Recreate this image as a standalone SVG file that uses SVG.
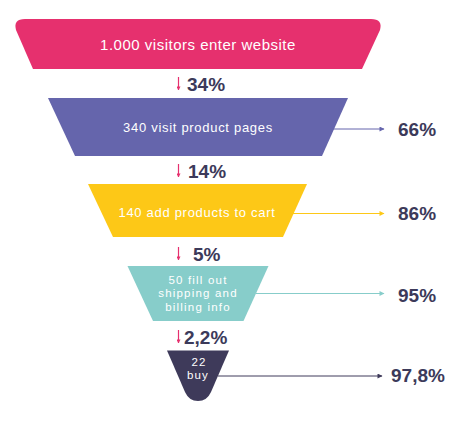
<svg xmlns="http://www.w3.org/2000/svg" width="463" height="428" viewBox="0 0 463 428">
<style>
.lbl{font-family:"Liberation Sans",Arial,sans-serif;font-size:13px;fill:#ffffff;text-anchor:middle;letter-spacing:0.7px}
.sm{font-size:11.5px;letter-spacing:1.2px}
.pct{font-family:"Liberation Sans",Arial,sans-serif;font-size:19px;font-weight:bold;fill:#3c3a5a}
.down{stroke:#e6306e;stroke-width:1.2;fill:none}
</style>
<defs>
<marker id="hd" viewBox="0 0 10 10" refX="9" refY="5" markerWidth="4" markerHeight="4" markerUnits="userSpaceOnUse" orient="auto"><path d="M0,0 L10,5 L0,10 Z" fill="#e6306e"/></marker>
<marker id="hp" viewBox="0 0 10 10" refX="9" refY="5" markerWidth="8" markerHeight="5" markerUnits="userSpaceOnUse" orient="auto"><path d="M0,0 L10,5 L0,10 Z" fill="#6565ac"/></marker>
<marker id="hy" viewBox="0 0 10 10" refX="9" refY="5" markerWidth="8" markerHeight="5" markerUnits="userSpaceOnUse" orient="auto"><path d="M0,0 L10,5 L0,10 Z" fill="#fdc817"/></marker>
<marker id="ht" viewBox="0 0 10 10" refX="9" refY="5" markerWidth="8" markerHeight="5" markerUnits="userSpaceOnUse" orient="auto"><path d="M0,0 L10,5 L0,10 Z" fill="#87cdca"/></marker>
<marker id="hn" viewBox="0 0 10 10" refX="9" refY="5" markerWidth="8" markerHeight="5" markerUnits="userSpaceOnUse" orient="auto"><path d="M0,0 L10,5 L0,10 Z" fill="#3e3a5a"/></marker>
</defs>
<rect width="463" height="428" fill="#ffffff"/>
<g id="stage1">
<path d="M33,69 L16,30 Q13,19 25,19 L371,19 Q383,19 380,30 L362,69 Z" fill="#e6306e"/>
<text class="lbl" x="198" y="50" style="font-size:15px;letter-spacing:0.5px">1.000 visitors enter website</text>
</g>
<g id="stage2">
<path d="M48,98 L348,98 L322,156 L75,156 Z" fill="#6565ac"/>
<text class="lbl" x="198" y="132">340 visit product pages</text>
</g>
<g id="stage3">
<path d="M88,184 L307,184 L283,237 L113,237 Z" fill="#fdc817"/>
<text class="lbl" x="197" y="217">140 add products to cart</text>
</g>
<g id="stage4">
<path d="M127.5,266 L268.5,266 L243.5,321 L153,321 Z" fill="#87cdca"/>
<text class="lbl sm" x="198" y="283.5">50 fill out</text>
<text class="lbl sm" x="198" y="297">shipping and</text>
<text class="lbl sm" x="198" y="310.5">billing info</text>
</g>
<g id="stage5">
<path d="M167,350.5 L229,350.5 L211,392 Q207,401 198,401 Q189,401 185,392 Z" fill="#3e3a5a"/>
<text class="lbl sm" x="199" y="365.5">22</text>
<text class="lbl sm" x="198" y="379">buy</text>
</g>
<g id="connectors">
<line class="down" x1="178.5" y1="77" x2="178.5" y2="90" marker-end="url(#hd)"/>
<line class="down" x1="178.5" y1="164" x2="178.5" y2="177" marker-end="url(#hd)"/>
<line class="down" x1="178.5" y1="247" x2="178.5" y2="260" marker-end="url(#hd)"/>
<line class="down" x1="178.5" y1="330" x2="178.5" y2="343" marker-end="url(#hd)"/>
<line x1="333" y1="129" x2="384" y2="129" stroke="#6565ac" stroke-width="1" marker-end="url(#hp)"/>
<line x1="293" y1="213.5" x2="384" y2="213.5" stroke="#fdc817" stroke-width="1" marker-end="url(#hy)"/>
<line x1="256" y1="293.5" x2="384" y2="293.5" stroke="#87cdca" stroke-width="1" marker-end="url(#ht)"/>
<line x1="218" y1="376" x2="382" y2="376" stroke="#3e3a5a" stroke-width="1" marker-end="url(#hn)"/>
</g>
<g id="labels">
<text class="pct" x="187" y="91">34%</text>
<text class="pct" x="188" y="178">14%</text>
<text class="pct" x="193" y="261">5%</text>
<text class="pct" x="184" y="344">2,2%</text>
<text class="pct" x="398" y="135.5">66%</text>
<text class="pct" x="398" y="219.5">86%</text>
<text class="pct" x="398" y="301.5">95%</text>
<text class="pct" x="391" y="382">97,8%</text>
</g>
</svg>
